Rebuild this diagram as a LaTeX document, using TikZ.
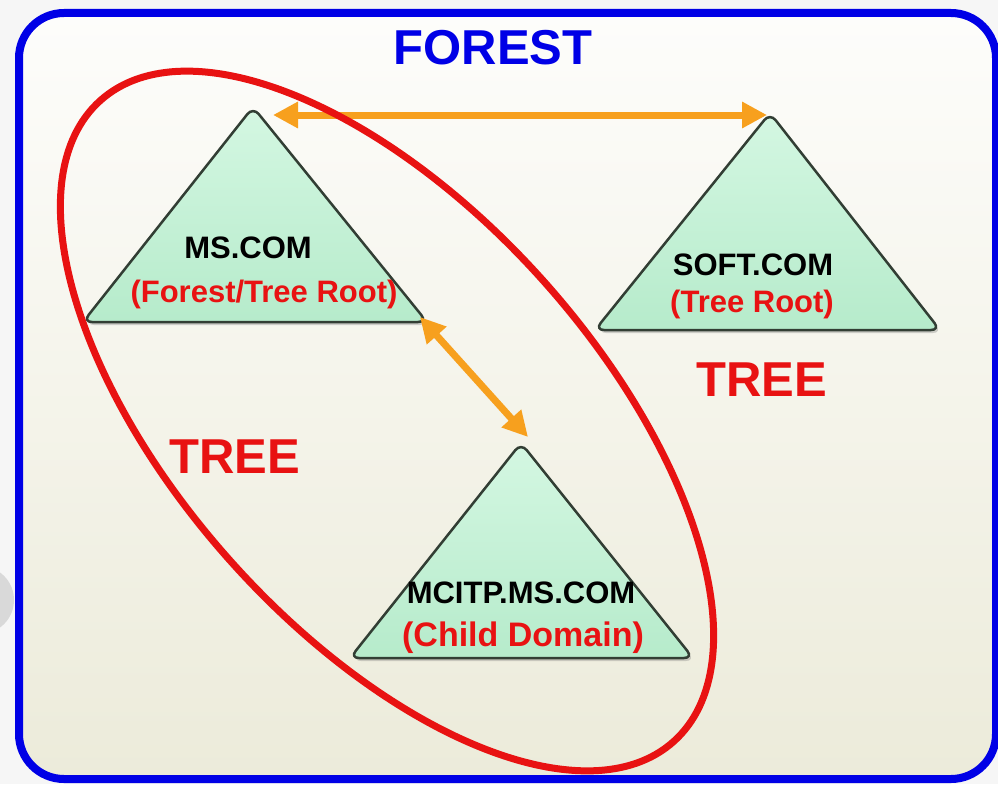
\documentclass[tikz,border=0pt]{standalone}
\usepackage{fontspec}
\setmainfont{Liberation Sans}
\usetikzlibrary{arrows.meta,shadows}
\definecolor{frameblue}{RGB}{0,0,230}
\definecolor{treered}{RGB}{232,18,18}
\definecolor{arroworange}{RGB}{247,160,30}
\definecolor{mintlight}{RGB}{212,247,226}
\definecolor{mintdark}{RGB}{182,235,203}
\definecolor{triborder}{RGB}{50,62,52}
\definecolor{bgtop}{RGB}{253,253,251}
\definecolor{bgbottom}{RGB}{236,235,218}
\definecolor{pagebg}{RGB}{246,246,246}
\definecolor{sidegray}{RGB}{217,217,217}
\begin{document}
\begin{tikzpicture}[x=1pt,y=-1pt,
  domainshape/.style={rounded corners=9pt, draw=triborder, line width=2.5pt,
    top color=mintlight, bottom color=mintdark,
    drop shadow={opacity=0.35,shadow xshift=2pt,shadow yshift=-3pt}},
  nametext/.style={font=\fontsize{31}{36}\selectfont\bfseries, text=black, anchor=base, inner sep=0pt},
  roletext/.style={font=\fontsize{31}{36}\selectfont\bfseries, text=treered, anchor=base, inner sep=0pt},
  bigred/.style={font=\fontsize{49}{56}\selectfont\bfseries, text=treered, anchor=base, inner sep=0pt},
  link/.style={draw=arroworange, line width=7pt,
    arrows={Triangle[length=25pt,width=25pt]-Triangle[length=25pt,width=25pt]}},
  treeloop/.style={draw=treered, line width=7pt},
]
\useasboundingbox (0,0) rectangle (998,784);
\fill[pagebg] (0,0) rectangle (998,784);
\fill[sidegray] (-20,600) circle [radius=34pt];
% forest frame
\draw[frameblue, line width=8pt, rounded corners=45pt, top color=bgtop, bottom color=bgbottom]
  (19,13) rectangle (996,779);
% domains
\path[domainshape] (253,107) -- (83,322) -- (427,322) -- cycle;
\path[domainshape] (770,113) -- (595,330) -- (940,330) -- cycle;
\path[domainshape] (521,443) -- (350,658) -- (693,658) -- cycle;
% labels
\node[bigred, text=frameblue] (forest) at (493,65) {FOREST};
\node[nametext] (msname) at (248,258) {MS.COM};
\node[roletext] (msrole) at (264,302) {(Forest/Tree Root)};
\node[nametext] (softname) at (753,275) {SOFT.COM};
\node[roletext] (softrole) at (752,312) {(Tree Root)};
\node[nametext] (mcitpname) at (521,603) {MCITP.MS.COM};
\node[roletext, font=\fontsize{34}{40}\selectfont\bfseries] (mcitprole) at (523,646) {(Child Domain)};
\node[bigred] (treeright) at (762,396) {TREE};
\node[bigred] (treeleft) at (235,473) {TREE};
% connectors
\coordinate (msapex) at (273,115);
\coordinate (softapex) at (767,115);
\coordinate (mscorner) at (420,317);
\coordinate (mcitpapex) at (528,437);
\draw[link] (msapex) -- (softapex);
\draw[link] (mscorner) -- (mcitpapex);
% tree boundary
\draw[treeloop, rotate around={-48.2:(387,421)}] (387,421) ellipse [x radius=430pt, y radius=210pt];
\end{tikzpicture}
\end{document}
